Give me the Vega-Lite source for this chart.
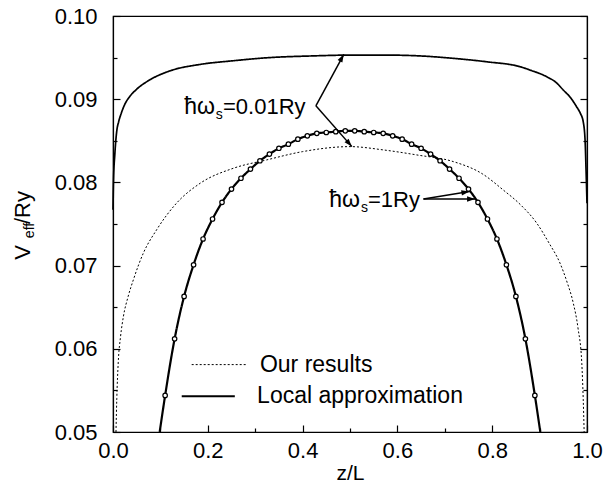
{
  "$schema": "https://vega.github.io/schema/vega-lite/v6.json",
  "width": 474,
  "height": 416,
  "autosize": {"type": "none"},
  "padding": {"left": 113, "top": 16, "right": 19, "bottom": 59},
  "background": "white",
  "config": {
    "font": "Liberation Sans",
    "view": {"stroke": "black", "strokeWidth": 1.2},
    "axis": {
      "domainColor": "black", "tickColor": "black", "labelColor": "black", "titleColor": "black",
      "labelFont": "Liberation Sans", "labelFontSize": 22, "titleFont": "Liberation Sans",
      "titleFontSize": 21, "titleFontWeight": "normal", "grid": false, "domainWidth": 1.2, "tickWidth": 1.2
    },
    "text": {"font": "Liberation Sans", "color": "black"}
  },
  "datasets": {
    "curves": [
      {"z": 0.0, "v": 0.0767, "curve": "0.01Ry", "method": "Local approximation"},
      {"z": 0.001, "v": 0.0800, "curve": "0.01Ry", "method": "Local approximation"},
      {"z": 0.004, "v": 0.0835, "curve": "0.01Ry", "method": "Local approximation"},
      {"z": 0.008, "v": 0.0862, "curve": "0.01Ry", "method": "Local approximation"},
      {"z": 0.012, "v": 0.0873, "curve": "0.01Ry", "method": "Local approximation"},
      {"z": 0.018, "v": 0.0884, "curve": "0.01Ry", "method": "Local approximation"},
      {"z": 0.025, "v": 0.0894, "curve": "0.01Ry", "method": "Local approximation"},
      {"z": 0.035, "v": 0.0903, "curve": "0.01Ry", "method": "Local approximation"},
      {"z": 0.05, "v": 0.0912, "curve": "0.01Ry", "method": "Local approximation"},
      {"z": 0.08, "v": 0.0924, "curve": "0.01Ry", "method": "Local approximation"},
      {"z": 0.12, "v": 0.0934, "curve": "0.01Ry", "method": "Local approximation"},
      {"z": 0.186, "v": 0.0942, "curve": "0.01Ry", "method": "Local approximation"},
      {"z": 0.25, "v": 0.0946, "curve": "0.01Ry", "method": "Local approximation"},
      {"z": 0.33, "v": 0.0950, "curve": "0.01Ry", "method": "Local approximation"},
      {"z": 0.42, "v": 0.0952, "curve": "0.01Ry", "method": "Local approximation"},
      {"z": 0.5, "v": 0.0953, "curve": "0.01Ry", "method": "Local approximation"},
      {"z": 0.58, "v": 0.0953, "curve": "0.01Ry", "method": "Local approximation"},
      {"z": 0.648, "v": 0.0952, "curve": "0.01Ry", "method": "Local approximation"},
      {"z": 0.72, "v": 0.0949, "curve": "0.01Ry", "method": "Local approximation"},
      {"z": 0.788, "v": 0.0945, "curve": "0.01Ry", "method": "Local approximation"},
      {"z": 0.859, "v": 0.0939, "curve": "0.01Ry", "method": "Local approximation"},
      {"z": 0.88, "v": 0.0935, "curve": "0.01Ry", "method": "Local approximation"},
      {"z": 0.915, "v": 0.0927, "curve": "0.01Ry", "method": "Local approximation"},
      {"z": 0.935, "v": 0.0920, "curve": "0.01Ry", "method": "Local approximation"},
      {"z": 0.95, "v": 0.0911, "curve": "0.01Ry", "method": "Local approximation"},
      {"z": 0.965, "v": 0.0902, "curve": "0.01Ry", "method": "Local approximation"},
      {"z": 0.978, "v": 0.0891, "curve": "0.01Ry", "method": "Local approximation"},
      {"z": 0.986, "v": 0.0883, "curve": "0.01Ry", "method": "Local approximation"},
      {"z": 0.992, "v": 0.0873, "curve": "0.01Ry", "method": "Local approximation"},
      {"z": 0.996, "v": 0.0850, "curve": "0.01Ry", "method": "Local approximation"},
      {"z": 0.998, "v": 0.0815, "curve": "0.01Ry", "method": "Local approximation"},
      {"z": 1.0, "v": 0.0775, "curve": "0.01Ry", "method": "Local approximation"},

      {"z": 0.0063, "v": 0.0500, "curve": "0.01Ry", "method": "Our results"},
      {"z": 0.008, "v": 0.0540, "curve": "0.01Ry", "method": "Our results"},
      {"z": 0.011, "v": 0.0583, "curve": "0.01Ry", "method": "Our results"},
      {"z": 0.016, "v": 0.0615, "curve": "0.01Ry", "method": "Our results"},
      {"z": 0.022, "v": 0.0639, "curve": "0.01Ry", "method": "Our results"},
      {"z": 0.032, "v": 0.0663, "curve": "0.01Ry", "method": "Our results"},
      {"z": 0.043, "v": 0.0683, "curve": "0.01Ry", "method": "Our results"},
      {"z": 0.064, "v": 0.0715, "curve": "0.01Ry", "method": "Our results"},
      {"z": 0.092, "v": 0.0743, "curve": "0.01Ry", "method": "Our results"},
      {"z": 0.134, "v": 0.0775, "curve": "0.01Ry", "method": "Our results"},
      {"z": 0.184, "v": 0.0799, "curve": "0.01Ry", "method": "Our results"},
      {"z": 0.254, "v": 0.0817, "curve": "0.01Ry", "method": "Our results"},
      {"z": 0.324, "v": 0.0827, "curve": "0.01Ry", "method": "Our results"},
      {"z": 0.4, "v": 0.0837, "curve": "0.01Ry", "method": "Our results"},
      {"z": 0.5, "v": 0.0843, "curve": "0.01Ry", "method": "Our results"},
      {"z": 0.571, "v": 0.0839, "curve": "0.01Ry", "method": "Our results"},
      {"z": 0.641, "v": 0.0833, "curve": "0.01Ry", "method": "Our results"},
      {"z": 0.718, "v": 0.0825, "curve": "0.01Ry", "method": "Our results"},
      {"z": 0.78, "v": 0.0810, "curve": "0.01Ry", "method": "Our results"},
      {"z": 0.823, "v": 0.0791, "curve": "0.01Ry", "method": "Our results"},
      {"z": 0.86, "v": 0.0773, "curve": "0.01Ry", "method": "Our results"},
      {"z": 0.894, "v": 0.0751, "curve": "0.01Ry", "method": "Our results"},
      {"z": 0.92, "v": 0.0727, "curve": "0.01Ry", "method": "Our results"},
      {"z": 0.943, "v": 0.0703, "curve": "0.01Ry", "method": "Our results"},
      {"z": 0.958, "v": 0.0680, "curve": "0.01Ry", "method": "Our results"},
      {"z": 0.971, "v": 0.0655, "curve": "0.01Ry", "method": "Our results"},
      {"z": 0.981, "v": 0.0625, "curve": "0.01Ry", "method": "Our results"},
      {"z": 0.989, "v": 0.0583, "curve": "0.01Ry", "method": "Our results"},
      {"z": 0.992, "v": 0.0540, "curve": "0.01Ry", "method": "Our results"},
      {"z": 0.994, "v": 0.0500, "curve": "0.01Ry", "method": "Our results"},

      {"z": 0.0985, "v": 0.0500, "curve": "1Ry", "method": "Local approximation"},
      {"z": 0.11, "v": 0.0544, "curve": "1Ry", "method": "Local approximation"},
      {"z": 0.13, "v": 0.0612, "curve": "1Ry", "method": "Local approximation"},
      {"z": 0.15, "v": 0.0663, "curve": "1Ry", "method": "Local approximation"},
      {"z": 0.17, "v": 0.0701, "curve": "1Ry", "method": "Local approximation"},
      {"z": 0.19, "v": 0.0732, "curve": "1Ry", "method": "Local approximation"},
      {"z": 0.21, "v": 0.0756, "curve": "1Ry", "method": "Local approximation"},
      {"z": 0.23, "v": 0.0776, "curve": "1Ry", "method": "Local approximation"},
      {"z": 0.25, "v": 0.0792, "curve": "1Ry", "method": "Local approximation"},
      {"z": 0.27, "v": 0.0805, "curve": "1Ry", "method": "Local approximation"},
      {"z": 0.29, "v": 0.0816, "curve": "1Ry", "method": "Local approximation"},
      {"z": 0.31, "v": 0.0826, "curve": "1Ry", "method": "Local approximation"},
      {"z": 0.33, "v": 0.0834, "curve": "1Ry", "method": "Local approximation"},
      {"z": 0.35, "v": 0.0841, "curve": "1Ry", "method": "Local approximation"},
      {"z": 0.37, "v": 0.0846, "curve": "1Ry", "method": "Local approximation"},
      {"z": 0.39, "v": 0.0852, "curve": "1Ry", "method": "Local approximation"},
      {"z": 0.41, "v": 0.0856, "curve": "1Ry", "method": "Local approximation"},
      {"z": 0.43, "v": 0.0859, "curve": "1Ry", "method": "Local approximation"},
      {"z": 0.45, "v": 0.0860, "curve": "1Ry", "method": "Local approximation"},
      {"z": 0.47, "v": 0.0861, "curve": "1Ry", "method": "Local approximation"},
      {"z": 0.49, "v": 0.0862, "curve": "1Ry", "method": "Local approximation"},
      {"z": 0.51, "v": 0.0862, "curve": "1Ry", "method": "Local approximation"},
      {"z": 0.53, "v": 0.0861, "curve": "1Ry", "method": "Local approximation"},
      {"z": 0.55, "v": 0.0860, "curve": "1Ry", "method": "Local approximation"},
      {"z": 0.57, "v": 0.0859, "curve": "1Ry", "method": "Local approximation"},
      {"z": 0.59, "v": 0.0856, "curve": "1Ry", "method": "Local approximation"},
      {"z": 0.61, "v": 0.0852, "curve": "1Ry", "method": "Local approximation"},
      {"z": 0.63, "v": 0.0846, "curve": "1Ry", "method": "Local approximation"},
      {"z": 0.65, "v": 0.0841, "curve": "1Ry", "method": "Local approximation"},
      {"z": 0.67, "v": 0.0834, "curve": "1Ry", "method": "Local approximation"},
      {"z": 0.69, "v": 0.0826, "curve": "1Ry", "method": "Local approximation"},
      {"z": 0.71, "v": 0.0816, "curve": "1Ry", "method": "Local approximation"},
      {"z": 0.73, "v": 0.0805, "curve": "1Ry", "method": "Local approximation"},
      {"z": 0.75, "v": 0.0792, "curve": "1Ry", "method": "Local approximation"},
      {"z": 0.77, "v": 0.0776, "curve": "1Ry", "method": "Local approximation"},
      {"z": 0.79, "v": 0.0756, "curve": "1Ry", "method": "Local approximation"},
      {"z": 0.81, "v": 0.0732, "curve": "1Ry", "method": "Local approximation"},
      {"z": 0.83, "v": 0.0701, "curve": "1Ry", "method": "Local approximation"},
      {"z": 0.85, "v": 0.0663, "curve": "1Ry", "method": "Local approximation"},
      {"z": 0.87, "v": 0.0612, "curve": "1Ry", "method": "Local approximation"},
      {"z": 0.89, "v": 0.0544, "curve": "1Ry", "method": "Local approximation"},
      {"z": 0.9015, "v": 0.0500, "curve": "1Ry", "method": "Local approximation"},

      {"z": 0.11, "v": 0.0544, "curve": "1Ry", "method": "Our results"},
      {"z": 0.13, "v": 0.0612, "curve": "1Ry", "method": "Our results"},
      {"z": 0.15, "v": 0.0663, "curve": "1Ry", "method": "Our results"},
      {"z": 0.17, "v": 0.0701, "curve": "1Ry", "method": "Our results"},
      {"z": 0.19, "v": 0.0732, "curve": "1Ry", "method": "Our results"},
      {"z": 0.21, "v": 0.0756, "curve": "1Ry", "method": "Our results"},
      {"z": 0.23, "v": 0.0776, "curve": "1Ry", "method": "Our results"},
      {"z": 0.25, "v": 0.0792, "curve": "1Ry", "method": "Our results"},
      {"z": 0.27, "v": 0.0805, "curve": "1Ry", "method": "Our results"},
      {"z": 0.29, "v": 0.0816, "curve": "1Ry", "method": "Our results"},
      {"z": 0.31, "v": 0.0826, "curve": "1Ry", "method": "Our results"},
      {"z": 0.33, "v": 0.0834, "curve": "1Ry", "method": "Our results"},
      {"z": 0.35, "v": 0.0841, "curve": "1Ry", "method": "Our results"},
      {"z": 0.37, "v": 0.0846, "curve": "1Ry", "method": "Our results"},
      {"z": 0.39, "v": 0.0852, "curve": "1Ry", "method": "Our results"},
      {"z": 0.41, "v": 0.0856, "curve": "1Ry", "method": "Our results"},
      {"z": 0.43, "v": 0.0859, "curve": "1Ry", "method": "Our results"},
      {"z": 0.45, "v": 0.0860, "curve": "1Ry", "method": "Our results"},
      {"z": 0.47, "v": 0.0861, "curve": "1Ry", "method": "Our results"},
      {"z": 0.49, "v": 0.0862, "curve": "1Ry", "method": "Our results"},
      {"z": 0.51, "v": 0.0862, "curve": "1Ry", "method": "Our results"},
      {"z": 0.53, "v": 0.0861, "curve": "1Ry", "method": "Our results"},
      {"z": 0.55, "v": 0.0860, "curve": "1Ry", "method": "Our results"},
      {"z": 0.57, "v": 0.0859, "curve": "1Ry", "method": "Our results"},
      {"z": 0.59, "v": 0.0856, "curve": "1Ry", "method": "Our results"},
      {"z": 0.61, "v": 0.0852, "curve": "1Ry", "method": "Our results"},
      {"z": 0.63, "v": 0.0846, "curve": "1Ry", "method": "Our results"},
      {"z": 0.65, "v": 0.0841, "curve": "1Ry", "method": "Our results"},
      {"z": 0.67, "v": 0.0834, "curve": "1Ry", "method": "Our results"},
      {"z": 0.69, "v": 0.0826, "curve": "1Ry", "method": "Our results"},
      {"z": 0.71, "v": 0.0816, "curve": "1Ry", "method": "Our results"},
      {"z": 0.73, "v": 0.0805, "curve": "1Ry", "method": "Our results"},
      {"z": 0.75, "v": 0.0792, "curve": "1Ry", "method": "Our results"},
      {"z": 0.77, "v": 0.0776, "curve": "1Ry", "method": "Our results"},
      {"z": 0.79, "v": 0.0756, "curve": "1Ry", "method": "Our results"},
      {"z": 0.81, "v": 0.0732, "curve": "1Ry", "method": "Our results"},
      {"z": 0.83, "v": 0.0701, "curve": "1Ry", "method": "Our results"},
      {"z": 0.85, "v": 0.0663, "curve": "1Ry", "method": "Our results"},
      {"z": 0.87, "v": 0.0612, "curve": "1Ry", "method": "Our results"},
      {"z": 0.89, "v": 0.0544, "curve": "1Ry", "method": "Our results"}
    ]
  },
  "data": {"name": "curves"},
  "resolve": {"axis": {"x": "independent", "y": "independent"}},
  "layer": [
    {
      "transform": [{"filter": "datum.curve == '0.01Ry' && datum.method == 'Local approximation'"}],
      "mark": {"type": "line", "color": "black", "strokeWidth": 1.7, "interpolate": "monotone"},
      "encoding": {
        "x": {"field": "z", "type": "quantitative", "scale": {"domain": [0, 1], "nice": false},
          "axis": {"orient": "bottom", "values": [0, 0.1, 0.2, 0.3, 0.4, 0.5, 0.6, 0.7, 0.8, 0.9, 1.0],
            "labelExpr": "abs(datum.value*5-round(datum.value*5))>0.01 ? '' : format(datum.value,'.1f')",
            "tickSize": {"condition": {"test": "abs(datum.value*5-round(datum.value*5))>0.01", "value": -4}, "value": -7},
            "labelPadding": 15, "labelFlush": false, "title": "z/L", "titlePadding": 1}},
        "y": {"field": "v", "type": "quantitative", "scale": {"domain": [0.05, 0.1], "nice": false, "zero": false},
          "axis": {"orient": "left", "values": [0.05, 0.055, 0.06, 0.065, 0.07, 0.075, 0.08, 0.085, 0.09, 0.095, 0.1],
            "labelExpr": "abs(datum.value*100-round(datum.value*100))>0.01 ? '' : format(datum.value,'.2f')",
            "tickSize": {"condition": {"test": "abs(datum.value*100-round(datum.value*100))>0.01", "value": -4}, "value": -7},
            "labelPadding": 23, "labelFlush": false, "title": null}},
        "strokeDash": {"field": "method", "type": "nominal",
          "scale": {"domain": ["Our results", "Local approximation"], "range": [[2, 2], [1, 0]]}, "legend": null}
      }
    },
    {
      "transform": [{"filter": "datum.curve == '0.01Ry' && datum.method == 'Our results'"}],
      "mark": {"type": "line", "color": "black", "strokeWidth": 1, "interpolate": "monotone"},
      "encoding": {
        "x": {"field": "z", "type": "quantitative", "axis": null},
        "y": {"field": "v", "type": "quantitative", "axis": null},
        "strokeDash": {"field": "method", "type": "nominal", "legend": null}
      }
    },
    {
      "transform": [{"filter": "datum.curve == '1Ry' && datum.method == 'Local approximation'"}],
      "mark": {"type": "line", "color": "black", "strokeWidth": 2.2, "interpolate": "monotone"},
      "encoding": {
        "x": {"field": "z", "type": "quantitative", "axis": null},
        "y": {"field": "v", "type": "quantitative", "axis": null},
        "strokeDash": {"field": "method", "type": "nominal", "legend": null}
      }
    },
    {
      "transform": [{"filter": "datum.curve == '1Ry' && datum.method == 'Our results'"}],
      "mark": {"type": "point", "shape": "circle", "filled": false, "color": "black", "fill": "white", "fillOpacity": 1, "size": 20, "strokeWidth": 1.2},
      "encoding": {
        "x": {"field": "z", "type": "quantitative", "axis": null},
        "y": {"field": "v", "type": "quantitative",
          "axis": {"orient": "right", "values": [0.05, 0.055, 0.06, 0.065, 0.07, 0.075, 0.08, 0.085, 0.09, 0.095, 0.1],
            "labels": false, "title": null,
            "tickSize": {"condition": {"test": "abs(datum.value*100-round(datum.value*100))>0.01", "value": -4}, "value": -7}}}
      }
    },
    {"data": {"values": [{}]}, "mark": {"type": "rule", "color": "black", "strokeWidth": 1, "strokeDash": [2, 2]},
      "encoding": {"x": {"datum": 0.166, "type": "quantitative", "axis": null}, "y": {"datum": 0.0581, "type": "quantitative", "axis": null},
        "x2": {"datum": 0.282}}},
    {"data": {"values": [{}]}, "mark": {"type": "rule", "color": "black", "strokeWidth": 2},
      "encoding": {"x": {"datum": 0.145, "type": "quantitative", "axis": null}, "y": {"datum": 0.0543, "type": "quantitative", "axis": null},
        "x2": {"datum": 0.257}}},
    {"data": {"values": [{}]}, "mark": {"type": "text", "text": "Our results", "fontSize": 23, "align": "left", "baseline": "middle"},
      "encoding": {"x": {"datum": 0.310, "type": "quantitative", "axis": null}, "y": {"datum": 0.0581, "type": "quantitative", "axis": null}}},
    {"data": {"values": [{}]}, "mark": {"type": "text", "text": "Local approximation", "fontSize": 23, "align": "left", "baseline": "middle"},
      "encoding": {"x": {"datum": 0.304, "type": "quantitative", "axis": null}, "y": {"datum": 0.0543, "type": "quantitative", "axis": null}}},
    {"data": {"values": [{}]}, "mark": {"type": "rule", "color": "black", "strokeWidth": 1.5},
      "encoding": {"x": {"datum": 0.428, "type": "quantitative", "axis": null}, "y": {"datum": 0.0892, "type": "quantitative", "axis": null},
        "x2": {"datum": 0.487}, "y2": {"datum": 0.0954}}},
    {"data": {"values": [{}]}, "mark": {"type": "rule", "color": "black", "strokeWidth": 1.5},
      "encoding": {"x": {"datum": 0.428, "type": "quantitative", "axis": null}, "y": {"datum": 0.0892, "type": "quantitative", "axis": null},
        "x2": {"datum": 0.504}, "y2": {"datum": 0.0843}}},
    {"data": {"values": [{}]}, "mark": {"type": "rule", "color": "black", "strokeWidth": 1.5},
      "encoding": {"x": {"datum": 0.655, "type": "quantitative", "axis": null}, "y": {"datum": 0.0780, "type": "quantitative", "axis": null},
        "x2": {"datum": 0.752}, "y2": {"datum": 0.0789}}},
    {"data": {"values": [{}]}, "mark": {"type": "rule", "color": "black", "strokeWidth": 1.5},
      "encoding": {"x": {"datum": 0.655, "type": "quantitative", "axis": null}, "y": {"datum": 0.0780, "type": "quantitative", "axis": null},
        "x2": {"datum": 0.764}, "y2": {"datum": 0.0780}}},
    {"data": {"values": [{}]}, "mark": {"type": "point", "shape": "M0,0L-0.4,1.2L0.4,1.2Z", "filled": true, "color": "black", "opacity": 1, "size": 180, "angle": 28.7},
      "encoding": {"x": {"datum": 0.487, "type": "quantitative", "axis": null}, "y": {"datum": 0.0954, "type": "quantitative", "axis": null}}},
    {"data": {"values": [{}]}, "mark": {"type": "point", "shape": "M0,0L-0.4,1.2L0.4,1.2Z", "filled": true, "color": "black", "opacity": 1, "size": 180, "angle": 138.5},
      "encoding": {"x": {"datum": 0.504, "type": "quantitative", "axis": null}, "y": {"datum": 0.0843, "type": "quantitative", "axis": null}}},
    {"data": {"values": [{}]}, "mark": {"type": "point", "shape": "M0,0L-0.4,1.2L0.4,1.2Z", "filled": true, "color": "black", "opacity": 1, "size": 180, "angle": 80.6},
      "encoding": {"x": {"datum": 0.752, "type": "quantitative", "axis": null}, "y": {"datum": 0.0789, "type": "quantitative", "axis": null}}},
    {"data": {"values": [{}]}, "mark": {"type": "point", "shape": "M0,0L-0.4,1.2L0.4,1.2Z", "filled": true, "color": "black", "opacity": 1, "size": 180, "angle": 90},
      "encoding": {"x": {"datum": 0.764, "type": "quantitative", "axis": null}, "y": {"datum": 0.0780, "type": "quantitative", "axis": null}}},
    {"data": {"values": [{}]}, "mark": {"type": "text", "text": "ħω", "fontSize": 23, "align": "right", "baseline": "alphabetic"},
      "encoding": {"x": {"datum": 0.215, "type": "quantitative", "axis": null}, "y": {"datum": 0.0882, "type": "quantitative", "axis": null}}},
    {"data": {"values": [{}]}, "mark": {"type": "text", "text": "s", "fontSize": 14, "align": "left", "baseline": "alphabetic"},
      "encoding": {"x": {"datum": 0.217, "type": "quantitative", "axis": null}, "y": {"datum": 0.0876, "type": "quantitative", "axis": null}}},
    {"data": {"values": [{}]}, "mark": {"type": "text", "text": "=0.01Ry", "fontSize": 22, "align": "left", "baseline": "alphabetic"},
      "encoding": {"x": {"datum": 0.232, "type": "quantitative", "axis": null}, "y": {"datum": 0.0882, "type": "quantitative", "axis": null}}},
    {"data": {"values": [{}]}, "mark": {"type": "text", "text": "ħω", "fontSize": 23, "align": "right", "baseline": "alphabetic"},
      "encoding": {"x": {"datum": 0.521, "type": "quantitative", "axis": null}, "y": {"datum": 0.0770, "type": "quantitative", "axis": null}}},
    {"data": {"values": [{}]}, "mark": {"type": "text", "text": "s", "fontSize": 14, "align": "left", "baseline": "alphabetic"},
      "encoding": {"x": {"datum": 0.523, "type": "quantitative", "axis": null}, "y": {"datum": 0.0764, "type": "quantitative", "axis": null}}},
    {"data": {"values": [{}]}, "mark": {"type": "text", "text": "=1Ry", "fontSize": 22, "align": "left", "baseline": "alphabetic"},
      "encoding": {"x": {"datum": 0.538, "type": "quantitative", "axis": null}, "y": {"datum": 0.0770, "type": "quantitative", "axis": null}}},
    {"data": {"values": [{}]}, "mark": {"type": "text", "text": "V", "fontSize": 22, "align": "left", "baseline": "alphabetic", "angle": 270},
      "encoding": {"x": {"datum": -0.175, "type": "quantitative", "axis": null}, "y": {"datum": 0.0707, "type": "quantitative", "axis": null}}},
    {"data": {"values": [{}]}, "mark": {"type": "text", "text": "eff", "fontSize": 14, "align": "left", "baseline": "alphabetic", "angle": 270},
      "encoding": {"x": {"datum": -0.1667, "type": "quantitative", "axis": null}, "y": {"datum": 0.0733, "type": "quantitative", "axis": null}}},
    {"data": {"values": [{}]}, "mark": {"type": "text", "text": "/Ry", "fontSize": 22, "align": "left", "baseline": "alphabetic", "angle": 270},
      "encoding": {"x": {"datum": -0.175, "type": "quantitative", "axis": null}, "y": {"datum": 0.0750, "type": "quantitative", "axis": null}}}
  ]
}
